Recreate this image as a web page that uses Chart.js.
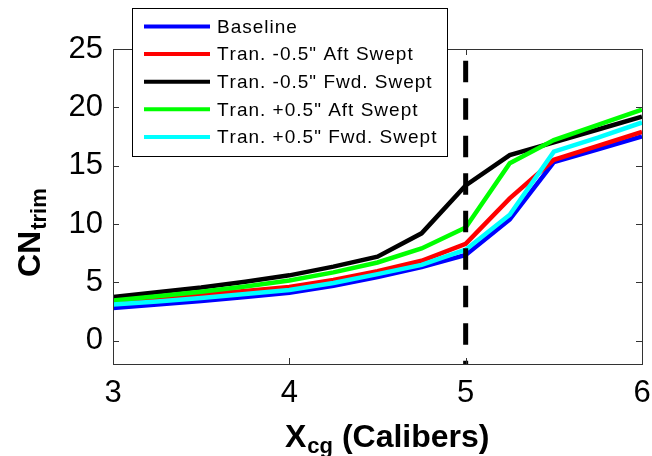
<!DOCTYPE html>
<html>
<head>
<meta charset="utf-8">
<script src="https://cdn.jsdelivr.net/npm/chart.js@4/dist/chart.umd.min.js"></script>
<style>
  html, body { margin: 0; padding: 0; background: #fff; }
  #wrap { width: 652px; height: 456px; }
</style>
</head>
<body>
<div id="wrap"><canvas id="c" width="652" height="456"></canvas></div>
<script>
// CG position in calibers
const xcg = [3, 3.25, 3.5, 3.75, 4, 4.25, 4.5, 4.75, 5, 5.25, 5.5, 5.75, 6];

// Trim normal-force coefficient for each configuration
const baseline   = [2.8, 3.1, 3.4, 3.75, 4.1, 4.7, 5.45, 6.3, 7.35, 10.4, 15.3, 16.4, 17.5];
const aftNeg     = [3.3, 3.6, 3.95, 4.25, 4.6, 5.2, 5.95, 6.85, 8.3, 12.2, 15.5, 16.7, 17.9];
const fwdNeg     = [3.75, 4.15, 4.55, 5.05, 5.6, 6.35, 7.2, 9.2, 13.3, 15.9, 17.0, 18.1, 19.2];
const aftPos     = [3.45, 3.8, 4.2, 4.65, 5.15, 5.85, 6.7, 7.9, 9.7, 15.2, 17.2, 18.5, 19.8];
const fwdPos     = [3.1, 3.35, 3.65, 4.0, 4.35, 4.95, 5.7, 6.5, 7.8, 10.8, 16.2, 17.4, 18.7];

const seriesNames = ['Baseline', 'Tran. -0.5" Aft Swept', 'Tran. -0.5" Fwd. Swept',
                     'Tran. +0.5" Aft Swept', 'Tran. +0.5" Fwd. Swept'];
const seriesColors = ['#0000ff', '#ff0000', '#000000', '#00ff00', '#00ffff'];
const seriesValues = [baseline, aftNeg, fwdNeg, aftPos, fwdPos];

// Reference CG location (dashed marker)
const refX = 5;
const yTicks = [0, 5, 10, 15, 20, 25];
const xTicks = [3, 4, 5, 6];
const yRange = [-2, 25];
const xRange = [3, 6];

const FONT = '"Liberation Sans", Arial, Helvetica, sans-serif';

const datasets = seriesValues.map((vals, i) => ({
  label: seriesNames[i],
  data: xcg.map((x, j) => ({ x: x, y: vals[j] })),
  borderColor: seriesColors[i],
  backgroundColor: seriesColors[i],
  borderWidth: 4.5,
  pointRadius: 0,
  tension: 0,
  fill: false,
  order: seriesValues.length - i + 1
}));

datasets.push({
  label: 'ref',
  data: [{ x: refX, y: yRange[1] }, { x: refX, y: yRange[0] }],
  borderColor: '#000',
  borderWidth: 5,
  borderDash: [21.5, 16],
  borderDashOffset: 25.8,
  borderCapStyle: 'butt',
  pointRadius: 0,
  fill: false,
  order: 0
});

// draws text one glyph at a time with extra tracking
function spacedText(ctx, str, x, y, track) {
  let cx = x;
  for (const ch of str) {
    ctx.fillText(ch, cx, y);
    cx += ctx.measureText(ch).width + track;
  }
}

// Box, inward ticks, axis titles and legend
const decor = {
  id: 'decor',
  afterDatasetsDraw(chart) {
    const ctx = chart.ctx;
    const a = chart.chartArea;
    const xs = chart.scales.x, ys = chart.scales.y;
    ctx.save();
    ctx.strokeStyle = '#333';
    ctx.lineWidth = 1;
    ctx.strokeRect(Math.round(a.left) + 0.5, Math.round(a.top) + 0.5,
                   Math.round(a.right - a.left), Math.round(a.bottom - a.top));
    const tl = 6;
    ctx.beginPath();
    yTicks.forEach(v => {
      const py = Math.round(ys.getPixelForValue(v)) + 0.5;
      ctx.moveTo(a.left, py); ctx.lineTo(a.left + tl, py);
      ctx.moveTo(a.right, py); ctx.lineTo(a.right - tl, py);
    });
    xTicks.forEach(v => {
      const px = Math.round(xs.getPixelForValue(v)) + 0.5;
      ctx.moveTo(px, a.bottom); ctx.lineTo(px, a.bottom - tl);
      ctx.moveTo(px, a.top); ctx.lineTo(px, a.top + tl);
    });
    ctx.stroke();

    // x title with subscript
    ctx.fillStyle = '#000';
    ctx.textBaseline = 'alphabetic';
    ctx.textAlign = 'left';
    ctx.font = 'bold 32px ' + FONT;
    let x0 = 285, yb = 447;
    ctx.fillText('X', x0, yb);
    x0 += ctx.measureText('X').width + 1;
    ctx.font = 'bold 22px ' + FONT;
    ctx.fillText('cg', x0, yb + 6);
    x0 += ctx.measureText('cg').width;
    ctx.font = 'bold 32px ' + FONT;
    ctx.fillText(' (Calibers)', x0, yb);

    // y title with subscript, rotated
    ctx.save();
    ctx.translate(40, 277);
    ctx.rotate(-Math.PI / 2);
    ctx.font = 'bold 32px ' + FONT;
    ctx.fillText('CN', 0, 0);
    const w = ctx.measureText('CN').width;
    ctx.font = 'bold 22px ' + FONT;
    ctx.fillText('trim', w + 1, 6);
    ctx.restore();

    // legend
    const L = { x: 132, y: 8, w: 315, h: 148 };
    ctx.fillStyle = '#fff';
    ctx.fillRect(L.x, L.y, L.w, L.h);
    ctx.strokeStyle = '#000';
    ctx.lineWidth = 1;
    ctx.strokeRect(L.x + 0.5, L.y + 0.5, L.w, L.h);
    ctx.font = '19px ' + FONT;
    ctx.textBaseline = 'middle';
    seriesNames.forEach((name, i) => {
      const ry = 26.5 + i * 27.6;
      ctx.strokeStyle = seriesColors[i];
      ctx.lineWidth = 4;
      ctx.beginPath();
      ctx.moveTo(144, ry); ctx.lineTo(210, ry);
      ctx.stroke();
      ctx.fillStyle = '#000';
      spacedText(ctx, name, 217, ry + 1, 1);
    });
    ctx.restore();
  }
};

new Chart(document.getElementById('c'), {
  type: 'line',
  data: { datasets: datasets },
  options: {
    responsive: false,
    animation: false,
    devicePixelRatio: 1,
    layout: { padding: { top: 49, right: 10, left: 0, bottom: 0 } },
    plugins: { legend: { display: false }, tooltip: { enabled: false } },
    scales: {
      x: {
        type: 'linear',
        min: xRange[0], max: xRange[1],
        afterBuildTicks: s => { s.ticks = xTicks.map(v => ({ value: v })); },
        afterFit: s => { s.height = 92; s.paddingLeft = 0; s.paddingRight = 0; },
        grid: { display: false, drawTicks: false },
        border: { display: false },
        ticks: { color: '#000', font: { family: FONT, size: 31 }, padding: 11, maxRotation: 0 }
      },
      y: {
        type: 'linear',
        min: yRange[0], max: yRange[1],
        afterBuildTicks: s => { s.ticks = yTicks.map(v => ({ value: v })); },
        afterFit: s => { s.width = 113; },
        grid: { display: false, drawTicks: false },
        border: { display: false },
        ticks: { color: '#000', font: { family: FONT, size: 31 }, padding: 10 }
      }
    }
  },
  plugins: [decor]
});
</script>
</body>
</html>
